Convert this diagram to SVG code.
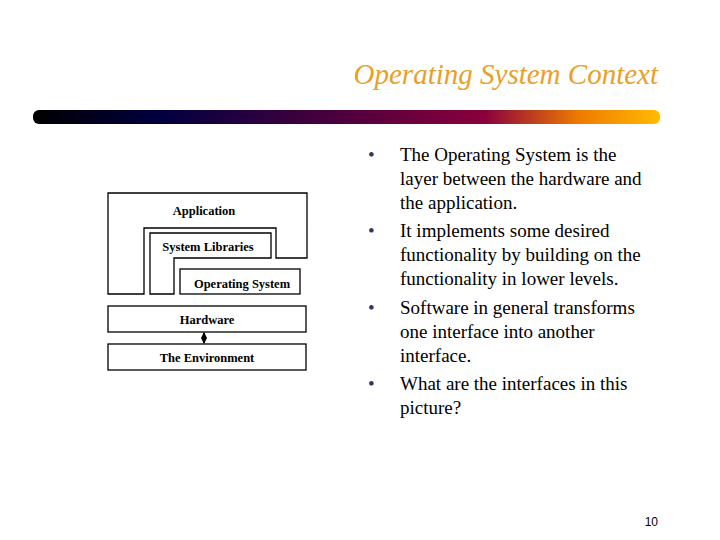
<svg xmlns="http://www.w3.org/2000/svg" width="720" height="540" viewBox="0 0 720 540">
<style>
.b{fill:#fff;stroke:#000;stroke-width:1.3}
.l{font-family:'Liberation Serif','Times New Roman',serif;font-size:12.5px;font-weight:bold;text-anchor:middle;fill:#000}
.t{font-family:'Liberation Serif','Times New Roman',serif;font-size:19px;fill:#000}
.d{fill:#333366}
</style>
<defs>
<linearGradient id="g" x1="0" x2="1">
<stop offset="0" stop-color="#000"/>
<stop offset="0.2" stop-color="#000040"/>
<stop offset="0.72" stop-color="#8a003c"/>
<stop offset="0.87" stop-color="#ef7a00"/>
<stop offset="1" stop-color="#ffbb00"/>
</linearGradient>
<marker id="a" viewBox="0 0 6 6" refX="5" refY="3" markerWidth="3" markerHeight="3" orient="auto-start-reverse"><path d="M0,0L6,3L0,6z" fill="#000"/></marker>
</defs>
<rect width="720" height="540" fill="#fff"/>
<text x="658" y="84" text-anchor="end" font-family="'Liberation Serif','Times New Roman',serif" font-style="italic" font-size="29" fill="#e8a028">Operating System Context</text>
<rect x="33" y="110" width="627" height="14" rx="6" fill="url(#g)"/>
<g id="application"><path class="b" d="M108,193H307V258H276V228H144V294H108Z"/><text class="l" x="204" y="215">Application</text></g>
<g id="syslib"><path class="b" d="M150,233H271V258H174V294H150Z"/><text class="l" x="208" y="251">System Libraries</text></g>
<g id="os"><rect class="b" x="180" y="269" width="120" height="25"/><text class="l" x="242" y="288">Operating System</text></g>
<g id="hardware"><rect class="b" x="108" y="306" width="198" height="26"/><text class="l" x="207" y="324">Hardware</text></g>
<g id="env"><rect class="b" x="108" y="344" width="198" height="26"/><text class="l" x="207" y="362">The Environment</text></g>
<g id="connectors"><line x1="204" y1="333" x2="204" y2="343" stroke="#000" stroke-width="2" marker-start="url(#a)" marker-end="url(#a)"/></g>
<g id="bullets">
<text class="t d" x="368" y="161">•</text>
<text class="t" x="400" y="161">The Operating System is the</text>
<text class="t" x="400" y="185">layer between the hardware and</text>
<text class="t" x="400" y="209">the application.</text>
<text class="t d" x="368" y="237">•</text>
<text class="t" x="400" y="237">It implements some desired</text>
<text class="t" x="400" y="261">functionality by building on the</text>
<text class="t" x="400" y="285">functionality in lower levels.</text>
<text class="t d" x="368" y="314">•</text>
<text class="t" x="400" y="314">Software in general transforms</text>
<text class="t" x="400" y="338">one interface into another</text>
<text class="t" x="400" y="362">interface.</text>
<text class="t d" x="368" y="390">•</text>
<text class="t" x="400" y="390">What are the interfaces in this</text>
<text class="t" x="400" y="414">picture?</text>
</g>
<text x="658" y="526" text-anchor="end" font-family="'Liberation Sans',sans-serif" font-size="12">10</text>
</svg>
